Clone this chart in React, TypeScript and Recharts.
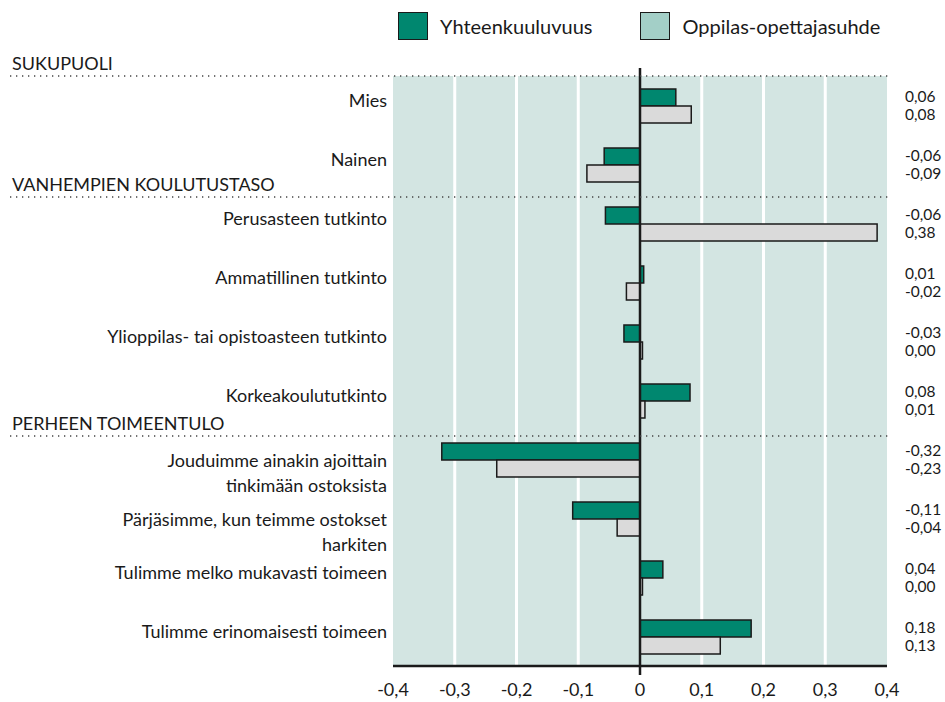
import { BarChart, Bar, XAxis, YAxis, CartesianGrid } from "recharts";

const CATEGORIES = [
  "Mies",
  "Nainen",
  "Perusasteen tutkinto",
  "Ammatillinen tutkinto",
  "Ylioppilas- tai opistoasteen tutkinto",
  "Korkeakoulututkinto",
  "Jouduimme ainakin ajoittain\ntinkimään ostoksista",
  "Pärjäsimme, kun teimme ostokset\nharkiten",
  "Tulimme melko mukavasti toimeen",
  "Tulimme erinomaisesti toimeen",
];

const SERIES_NAMES = ["Yhteenkuuluvuus", "Oppilas-opettajasuhde"];

const COHESION = [0.058, -0.058, -0.056, 0.006, -0.026, 0.081, -0.321, -0.109, 0.037, 0.18];
const TEACHER = [0.083, -0.086, 0.384, -0.022, 0.004, 0.008, -0.232, -0.037, 0.004, 0.13];

const X_TICKS = [-0.4, -0.3, -0.2, -0.1, 0, 0.1, 0.2, 0.3, 0.4];

const SECTIONS = [
  { title: "SUKUPUOLI", start: 0 },
  { title: "VANHEMPIEN KOULUTUSTASO", start: 2 },
  { title: "PERHEEN TOIMEENTULO", start: 6 },
];

const W = 945;
const H = 702;
const TOP = 76;
const AXIS_H = 36;
const LEFT_W = 383;
const RIGHT_W = 58;
const ROW = (H - TOP - AXIS_H) / CATEGORIES.length;
const FONT = "Lato, 'Open Sans', sans-serif";
const TEAL = "#00876f";
const GRAY = "#dadada";
const INK = "#1a1a1a";

const fmt = (v: number) => v.toFixed(2).replace(".", ",");

const rows = CATEGORIES.map((label, i) => ({
  label,
  cohesion: COHESION[i],
  teacher: TEACHER[i],
}));

const LabelTick = (props: any) => {
  const { y, payload } = props;
  const i = payload.index;
  const lines = CATEGORIES[i].split("\n");
  const k = SECTIONS.findIndex((s) => s.start === i);
  const lineY = y - ROW / 2 + k * 3;
  return (
    <g>
      {k >= 0 && (
        <g>
          <line
            x1={10}
            x2={W - RIGHT_W + 1}
            y1={lineY}
            y2={lineY}
            stroke="#444"
            strokeWidth={1.3}
            strokeDasharray="1.3 4.7"
          />
          <text x={12} y={lineY - 6} fontSize={18} fill={INK} fontFamily={FONT}>
            {SECTIONS[k].title}
          </text>
        </g>
      )}
      {lines.map((ln, j) => (
        <text
          key={j}
          x={10 + LEFT_W - 6}
          y={(lines.length > 1 ? y + 1 : y - 5) + j * 25}
          dy="0.35em"
          textAnchor="end"
          fontSize={18}
          fill={INK}
          fontFamily={FONT}
        >
          {ln}
        </text>
      ))}
    </g>
  );
};

const ValueTick = (props: any) => {
  const { y, payload } = props;
  const i = payload.index;
  return (
    <g fontFamily={FONT} fontSize={15.5} fill={INK}>
      <text x={W - RIGHT_W + 18} y={y - 9} dy="0.35em">
        {fmt(COHESION[i])}
      </text>
      <text x={W - RIGHT_W + 18} y={y + 9} dy="0.35em">
        {fmt(TEACHER[i])}
      </text>
    </g>
  );
};

const XTick = (props: any) => {
  const { x, payload } = props;
  const v = payload.value as number;
  const axisY = H - AXIS_H;
  return (
    <g>
      {v === 0 && (
        <line x1={x} x2={x} y1={TOP - 8} y2={axisY + 9} stroke={INK} strokeWidth={2.5} />
      )}
      <text
        x={x}
        y={axisY + 24}
        dy="0.35em"
        textAnchor="middle"
        fontSize={18}
        fill={INK}
        fontFamily={FONT}
      >
        {v === 0 ? "0" : v.toFixed(1).replace(".", ",")}
      </text>
    </g>
  );
};

const Swatch = ({ color, name }: { color: string; name: string }) => (
  <div style={{ display: "flex", alignItems: "center", marginRight: 48 }}>
    <div
      style={{
        width: 28,
        height: 26,
        background: color,
        border: `1.5px solid ${INK}`,
        marginRight: 12,
      }}
    />
    <span style={{ fontSize: 20, color: INK }}>{name}</span>
  </div>
);

export default function App() {
  return (
    <div
      style={{
        position: "absolute",
        left: 0,
        top: 0,
        width: W,
        height: H,
        background: "#fff",
        fontFamily: FONT,
      }}
    >
      <div style={{ position: "absolute", left: 398, top: 12, display: "flex" }}>
        <Swatch color={TEAL} name={SERIES_NAMES[0]} />
        <Swatch color="#a3cfc7" name={SERIES_NAMES[1]} />
      </div>
      <BarChart
        layout="vertical"
        width={W}
        height={H}
        data={rows}
        margin={{ top: TOP, right: 0, bottom: 0, left: 10 }}
        barGap={0}
        barSize={17}
      >
        <CartesianGrid
          horizontal={false}
          verticalValues={[-0.3, -0.2, -0.1, 0.1, 0.2, 0.3]}
          stroke="#ffffff"
          strokeWidth={3}
          fill="#d3e5e2"
          fillOpacity={1}
          yAxisId="left"
        />
        <XAxis
          type="number"
          domain={[-0.4, 0.4]}
          ticks={X_TICKS}
          allowDataOverflow
          axisLine={{ stroke: INK, strokeWidth: 2.5 }}
          tickLine={false}
          tick={XTick}
          height={AXIS_H}
        />
        <YAxis
          yAxisId="left"
          type="category"
          dataKey="label"
          width={LEFT_W}
          axisLine={false}
          tickLine={false}
          tick={LabelTick}
          interval={0}
        />
        <YAxis
          yAxisId="right"
          orientation="right"
          type="category"
          dataKey="label"
          width={RIGHT_W}
          axisLine={false}
          tickLine={false}
          tick={ValueTick}
          interval={0}
        />
        <Bar
          dataKey="cohesion"
          name={SERIES_NAMES[0]}
          yAxisId="left"
          fill={TEAL}
          stroke={INK}
          strokeWidth={1.5}
          isAnimationActive={false}
        />
        <Bar
          dataKey="teacher"
          name={SERIES_NAMES[1]}
          yAxisId="left"
          fill={GRAY}
          stroke={INK}
          strokeWidth={1.5}
          isAnimationActive={false}
        />
      </BarChart>
    </div>
  );
}
